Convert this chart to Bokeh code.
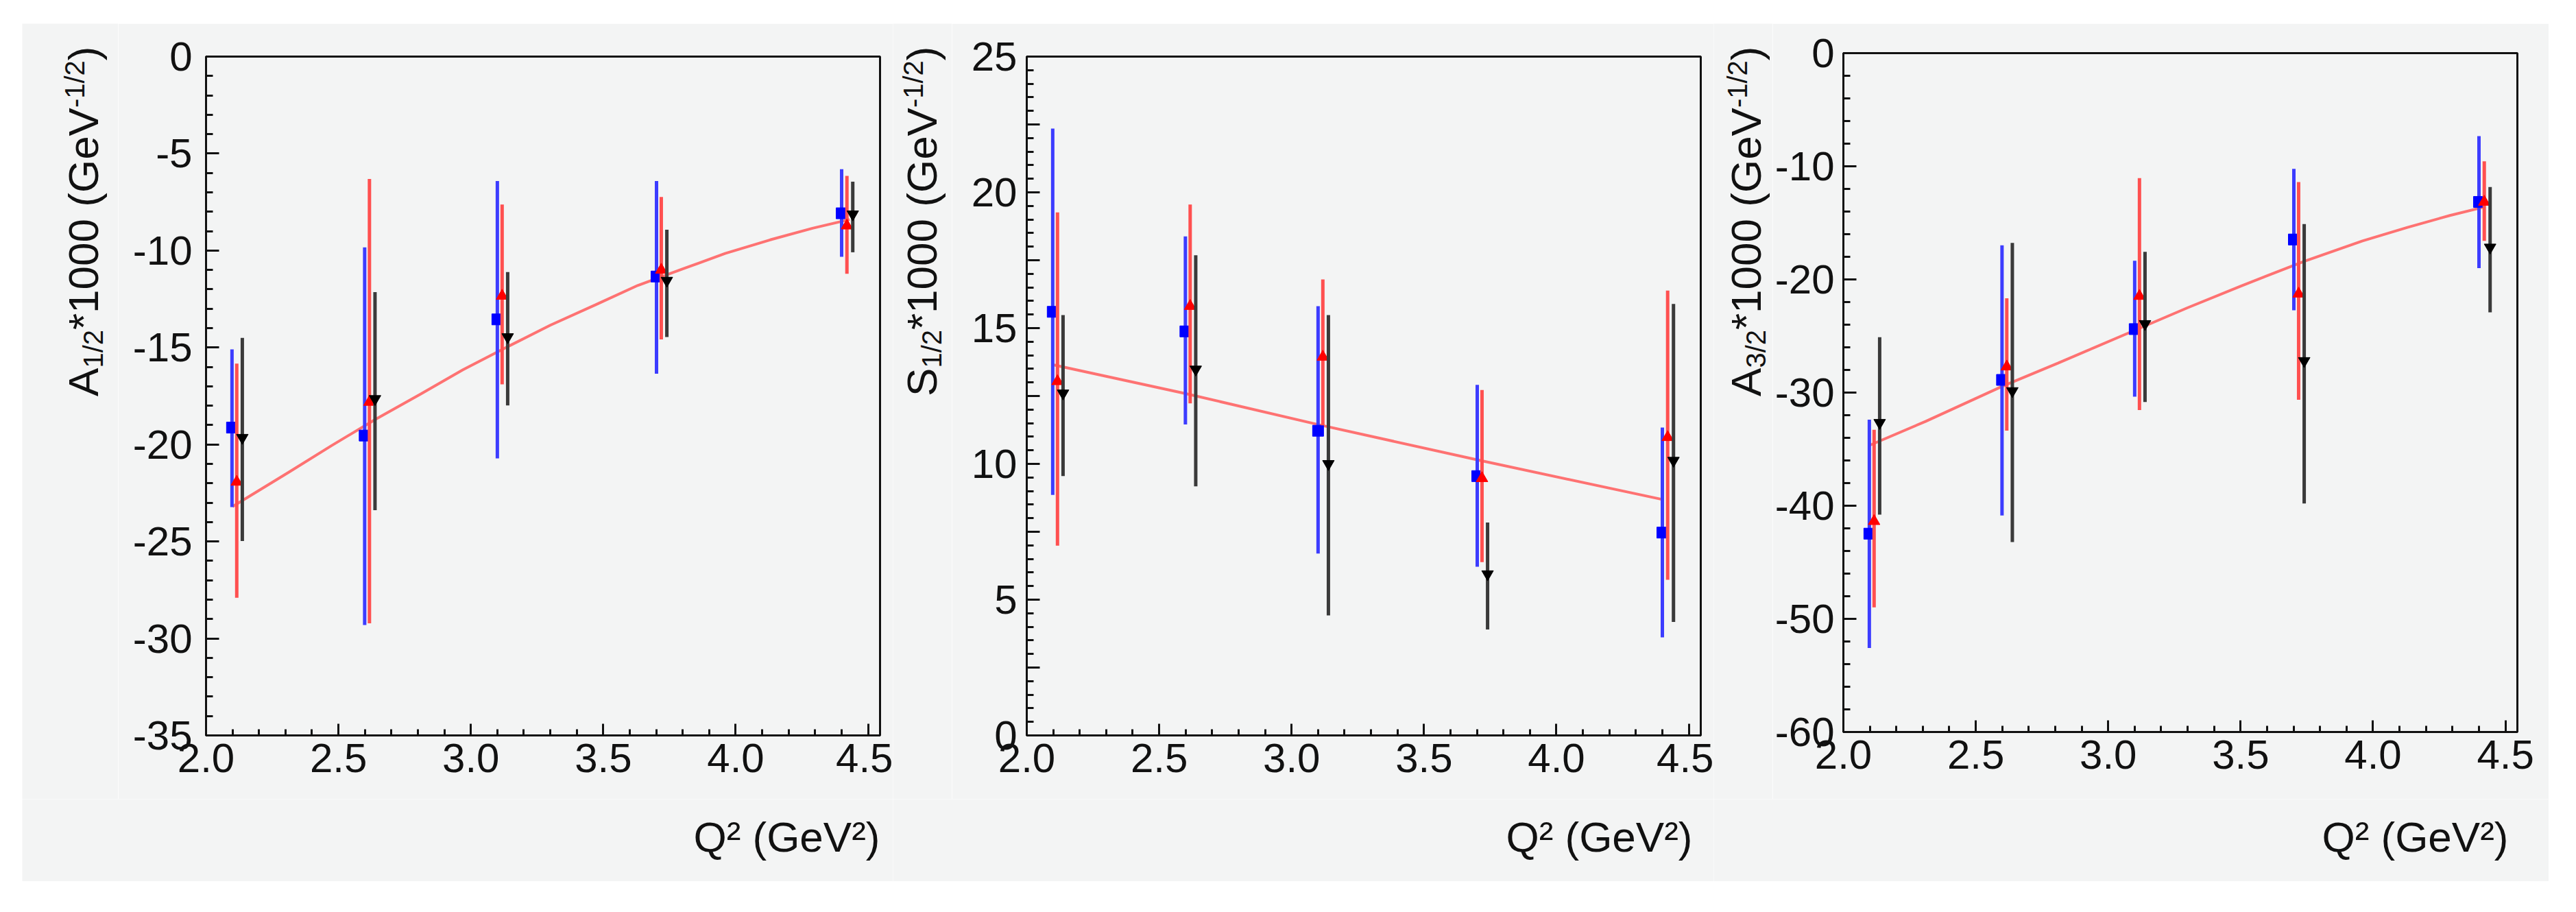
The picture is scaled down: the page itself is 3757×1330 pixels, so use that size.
from math import pi

from bokeh.embed import file_html
from bokeh.layouts import column, row
from bokeh.models import (Label, NumeralTickFormatter, Range1d,
                          SingleIntervalTicker, Spacer)
from bokeh.plotting import figure
from bokeh.resources import INLINE

# Q^2 positions of the three data sets (slightly shifted within each bin)
q2_blue = [2.098, 2.599, 3.100, 3.701, 4.400]
q2_red = [2.116, 2.617, 3.118, 3.719, 4.420]
q2_black = [2.137, 2.638, 3.139, 3.740, 4.442]

# A1/2 * 1000
a12_blue = [-19.13, -19.54, -13.55, -11.34, -8.08]
a12_blue_lo = [-23.23, -29.31, -20.72, -16.35, -10.32]
a12_blue_hi = [-15.10, -9.84, -6.42, -6.42, -5.81]
a12_red = [-21.93, -17.81, -12.34, -11.00, -8.72]
a12_red_lo = [-27.90, -29.22, -16.90, -14.58, -11.20]
a12_red_hi = [-15.83, -6.31, -7.63, -7.24, -6.15]
a12_black = [-19.65, -17.65, -14.46, -11.55, -8.13]
a12_black_lo = [-24.98, -23.39, -17.99, -14.46, -10.09]
a12_black_hi = [-14.50, -12.14, -11.11, -8.93, -6.45]
fit_a12_q2 = [2.10, 2.31, 2.475, 2.64, 2.81, 2.97, 3.14, 3.30, 3.47, 3.63,
              3.80, 3.96, 4.13, 4.29, 4.43]
fit_a12 = [-23.2, -21.45, -20.05, -18.7, -17.4, -16.15, -14.95, -13.85,
           -12.8, -11.8, -10.95, -10.15, -9.45, -8.85, -8.4]

# S1/2 * 1000
s12_blue = [15.60, 14.88, 11.22, 9.55, 7.47]
s12_blue_lo = [8.86, 11.45, 6.70, 6.21, 3.61]
s12_blue_hi = [22.35, 18.38, 15.81, 12.91, 11.34]
s12_red = [13.04, 15.81, 13.94, 9.47, 10.98]
s12_red_lo = [6.99, 12.23, 11.42, 6.38, 5.73]
s12_red_hi = [19.26, 19.55, 16.79, 12.72, 16.38]
s12_black = [12.60, 13.48, 10.00, 5.94, 10.12]
s12_black_lo = [9.55, 9.17, 4.42, 3.90, 4.18]
s12_black_hi = [15.48, 17.68, 15.48, 7.84, 15.89]
fit_s12_q2 = [2.10, 2.60, 3.10, 3.70, 4.40]
fit_s12 = [13.65, 12.59, 11.45, 10.15, 8.69]

# A3/2 * 1000
a32_blue = [-42.47, -28.88, -24.39, -16.47, -13.15]
a32_blue_lo = [-52.58, -40.87, -30.37, -22.72, -19.00]
a32_blue_hi = [-32.40, -16.98, -18.35, -10.23, -7.34]
a32_red = [-41.37, -27.71, -21.47, -21.27, -13.15]
a32_red_lo = [-48.98, -33.37, -31.54, -30.64, -16.59]
a32_red_hi = [-33.29, -21.66, -11.05, -11.40, -9.56]
a32_black = [-32.67, -29.86, -23.93, -27.20, -17.17]
a32_black_lo = [-40.79, -43.21, -30.84, -39.81, -22.91]
a32_black_hi = [-25.10, -16.78, -17.56, -15.10, -11.83]
fit_a32_q2 = [2.10, 2.31, 2.60, 2.81, 3.10, 3.30, 3.50, 3.63, 3.74, 3.96,
              4.13, 4.29, 4.42]
fit_a32 = [-34.65, -32.55, -29.45, -27.4, -24.5, -22.5, -20.6, -19.4, -18.4,
           -16.6, -15.4, -14.35, -13.6]

BG = "#f3f4f4"
INK = "#111111"
FONT = "Liberation Sans"
BIG = 62
SMALL = 40
MID = 0.35  # centre of the text box above the baseline, in em
PANEL_H = 1131
XTITLE_H = 120
# Arial / Liberation Sans advance widths (em) for laying out the y titles
ADV = {"A": 0.667, "S": 0.667, "0": 0.556, "1": 0.556, "2": 0.556,
       "3": 0.556, "/": 0.278, "*": 0.389, " ": 0.278, "(": 0.333,
       ")": 0.333, "G": 0.778, "e": 0.556, "V": 0.667, "-": 0.333}


def tw(s, size):
    return sum(ADV[c] for c in s) * size


def blank(width, height):
    # empty grey box that only carries text
    b = figure(width=width, height=height, output_backend="svg",
               toolbar_location=None, x_range=Range1d(0, 1),
               y_range=Range1d(0, 1), x_axis_location=None,
               y_axis_location=None, min_border=0, frame_align=False,
               background_fill_color=BG, border_fill_color=BG)
    b.title.visible = False
    b.grid.visible = False
    b.outline_line_color = None
    return b


def panel(width, borders, yr, ystep, yminor, standoff, ylabels=None):
    left, right, top, bottom = borders
    p = figure(width=width, height=PANEL_H, output_backend="svg",
               toolbar_location=None, x_range=Range1d(2.0, 4.545),
               y_range=Range1d(*yr), min_border_left=left,
               min_border_right=right, min_border_top=top,
               min_border_bottom=bottom, frame_align=False,
               background_fill_color=BG, border_fill_color=BG)
    p.title.visible = False
    p.grid.visible = False
    p.outline_line_color = INK
    p.outline_line_width = 3
    p.xaxis.ticker = SingleIntervalTicker(interval=0.5, num_minor_ticks=5)
    p.yaxis.ticker = SingleIntervalTicker(interval=ystep, num_minor_ticks=yminor)
    p.xaxis.formatter = NumeralTickFormatter(format="0.0")
    p.yaxis.formatter = NumeralTickFormatter(format="0")
    if ylabels:
        p.yaxis.major_label_overrides = ylabels
    for ax in (p.xaxis[0], p.yaxis[0]):
        ax.axis_line_width = 3
        ax.axis_line_color = INK
        ax.major_tick_out = 0
        ax.minor_tick_out = 0
        ax.major_tick_line_width = 3
        ax.minor_tick_line_width = 3
        ax.major_tick_line_color = INK
        ax.minor_tick_line_color = INK
        ax.major_label_text_font = FONT
        ax.major_label_text_font_size = "60px"
        ax.major_label_text_color = INK
    p.xaxis.major_tick_in = 17
    p.xaxis.minor_tick_in = 9
    p.yaxis.major_tick_in = 19
    p.yaxis.minor_tick_in = 10
    p.xaxis.major_label_standoff = 12
    p.yaxis.major_label_standoff = standoff
    return p


def draw(p, fit_x, fit_y, blue, red, black):
    p.line(fit_x, fit_y, line_color="#ff6464", line_width=4, line_alpha=0.9)
    sets = [(q2_blue, blue, "#0000ff", "#3c3cff", "square", 16),
            (q2_red, red, "#ff0000", "#ff5050", "triangle", 17),
            (q2_black, black, "#000000", "#3a3a3a", "inverted_triangle", 17)]
    for q2, (val, lo, hi), mc, bc, mk, sz in sets:
        p.segment(x0=q2, y0=lo, x1=q2, y1=hi, line_color=bc, line_width=5)
        p.scatter(q2, val, marker=mk, size=sz, fill_color=mc, line_color=mc)


def ytitle(width, letter, sub, base_x):
    # rotated title built from pieces: main text, subscript, superscript
    b = blank(width, PANEL_H)
    pieces = [(letter, BIG, 0), (sub, SMALL, 6), ("*1000 (GeV", BIG, 0),
              ("-1/2", SMALL, -21), (")", BIG, 0)]
    total = sum(tw(t, s) for t, s, _ in pieces)
    pos = PANEL_H - 33 - total
    for t, s, shift in pieces:
        b.add_layout(Label(x=base_x + shift - MID * s, y=pos,
                           x_units="screen", y_units="screen", angle=pi / 2,
                           text=t, text_font=FONT, text_font_size=f"{s}px",
                           text_color=INK, text_align="left",
                           text_baseline="middle"))
        pos += tw(t, s)
    return b


def xtitle(width, right_x):
    b = blank(width, XTITLE_H)
    b.add_layout(Label(x=right_x, y=43 + MID * BIG, x_units="screen",
                       y_units="screen", text="Q² (GeV²)", text_font=FONT,
                       text_font_size=f"{BIG}px", text_color=INK,
                       text_align="right", text_baseline="middle"))
    return b


p1 = panel(1130, (128, 19, 48, 93), (-35, 0), 5, 5, 20)
draw(p1, fit_a12_q2, fit_a12,
     (a12_blue, a12_blue_lo, a12_blue_hi),
     (a12_red, a12_red_lo, a12_red_hi),
     (a12_black, a12_black_lo, a12_black_hi))

s12_overrides = {2.5: "", 7.5: "", 12.5: "", 17.5: "", 22.5: ""}
p2 = panel(1111, (109, 19, 48, 93), (0, 25), 2.5, 5, 14, s12_overrides)
draw(p2, fit_s12_q2, fit_s12,
     (s12_blue, s12_blue_lo, s12_blue_hi),
     (s12_red, s12_red_lo, s12_red_hi),
     (s12_black, s12_black_lo, s12_black_hi))

p3 = panel(1132, (103, 46, 43, 98), (-60, 0), 10, 5, 13)
draw(p3, fit_a32_q2, fit_a32,
     (a32_blue, a32_blue_lo, a32_blue_hi),
     (a32_red, a32_red_lo, a32_red_hi),
     (a32_black, a32_black_lo, a32_black_hi))

col1 = column(row(ytitle(140, "A", "1/2", 111), p1), xtitle(1270, 1251))
col2 = column(row(ytitle(86, "S", "1/2", 64), p2), xtitle(1197, 1166))
col3 = column(row(ytitle(86, "A", "3/2", 69), p3), xtitle(1218, 1159))

layout = column(Spacer(height=34), row(Spacer(width=32), col1, col2, col3))

open("out.html", "w").write(file_html(layout, INLINE))
